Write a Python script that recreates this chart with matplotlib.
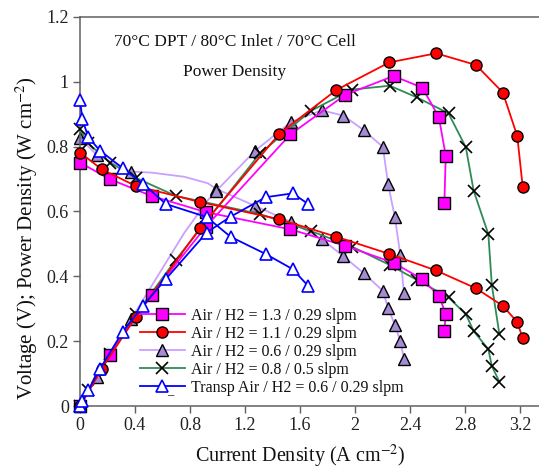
import matplotlib
matplotlib.use("Agg")
import matplotlib.pyplot as plt

plt.rcParams['font.family'] = ['Liberation Serif', 'DejaVu Serif']
plt.rcParams['mathtext.fontset'] = 'stix'

# --- Air / H2 = 1.3 / 0.29 slpm (magenta squares) ---
i_mag = [0.0, 0.215, 0.52, 0.915, 1.53, 1.93, 2.28, 2.49, 2.61, 2.66, 2.65]
v_mag = [0.751, 0.70, 0.648, 0.598, 0.545, 0.494, 0.442, 0.391, 0.34, 0.284, 0.232]
p_mag = [0.0, 0.157, 0.343, 0.553, 0.838, 0.96, 1.018, 0.982, 0.891, 0.772, 0.627]

# --- Air / H2 = 1.1 / 0.29 slpm (red circles) ---
i_red = [0.0, 0.158, 0.405, 0.875, 1.45, 1.865, 2.25, 2.59, 2.88, 3.075, 3.18, 3.22]
v_red = [0.782, 0.73, 0.679, 0.629, 0.576, 0.522, 0.469, 0.418, 0.363, 0.309, 0.259, 0.209]
p_red = [0.0, 0.115, 0.275, 0.55, 0.84, 0.975, 1.06, 1.088, 1.052, 0.967, 0.833, 0.675]

# --- Air / H2 = 0.6 / 0.29 slpm (lavender triangles); 3 line-only points ---
i_lav = [0.0, 0.121, 0.371, 0.52, 0.76, 0.93, 0.99, 1.275, 1.538, 1.758, 1.915,
         2.063, 2.203, 2.24, 2.29, 2.33, 2.356]
v_lav = [0.826, 0.775, 0.723, 0.72, 0.707, 0.687, 0.67, 0.617, 0.567, 0.515, 0.462,
         0.41, 0.355, 0.303, 0.25, 0.199, 0.146]
p_lav = [0.0, 0.09, 0.267, 0.37, 0.535, 0.635, 0.663, 0.788, 0.877, 0.912, 0.896,
         0.851, 0.799, 0.686, 0.582, 0.466, 0.348]
lav_marks = [0, 1, 2, 6, 7, 8, 9, 10, 11, 12, 13, 14, 15, 16]

# --- Air / H2 = 0.8 / 0.5 slpm (green line, black x) ---
i_grn = [0.0, 0.06, 0.218, 0.41, 0.697, 1.309, 1.677, 1.976, 2.253, 2.45, 2.68,
         2.806, 2.863, 2.97, 2.995, 3.05]
v_grn = [0.853, 0.81, 0.751, 0.703, 0.648, 0.592, 0.54, 0.492, 0.435, 0.389, 0.335,
         0.283, 0.231, 0.175, 0.123, 0.075]
p_grn = [0.0, 0.048, 0.16, 0.285, 0.451, 0.779, 0.91, 0.976, 0.988, 0.952, 0.903,
         0.798, 0.664, 0.53, 0.373, 0.222]

# --- Transp Air / H2 = 0.6 / 0.29 slpm (blue open triangles) ---
i_blu = [0.0, 0.017, 0.06, 0.145, 0.31, 0.46, 0.625, 0.921, 1.095, 1.35, 1.547, 1.66]
v_blu = [0.944, 0.885, 0.829, 0.788, 0.734, 0.685, 0.623, 0.583, 0.522, 0.469, 0.422, 0.37]
p_blu = [0.0, 0.015, 0.049, 0.114, 0.229, 0.31, 0.392, 0.535, 0.584, 0.644, 0.656, 0.623]

xticks = [0, 0.4, 0.8, 1.2, 1.6, 2.0, 2.4, 2.8, 3.2]
xticklabels = ["0", "0.4", "0.8", "1.2", "1.6", "2", "2.4", "2.8", "3.2"]
yticks = [0, 0.2, 0.4, 0.6, 0.8, 1.0, 1.2]
yticklabels = ["0", "0.2", "0.4", "0.6", "0.8", "1", "1.2"]

fig = plt.figure(figsize=(5.39, 4.69), dpi=100)
ax = fig.add_axes([80 / 539, 63 / 469, 459 / 539, 389 / 469])

styles = {
    "mag": dict(color="#ff00ff", marker="s", ms=8, mfc="#ff00ff", mec="black", mew=1.0, lw=1.3, zorder=4),
    "red": dict(color="#ff0000", marker="o", ms=8, mfc="#ff0000", mec="black", mew=1.0, lw=1.3, zorder=5),
    "lav": dict(color="#c9a0ff", marker="^", ms=8, mfc="#a58bd4", mec="black", mew=1.0, lw=1.3, zorder=2),
    "grn": dict(color="#2e8b57", marker="x", ms=8, mfc="none", mec="black", mew=1.2, lw=1.3, zorder=3),
    "blu": dict(color="#0000ff", marker="^", ms=8, mfc="white", mec="#0000ff", mew=1.2, lw=1.3, zorder=6),
}

h_mag, = ax.plot(i_mag, v_mag, clip_on=False, **styles["mag"])
ax.plot(i_mag, p_mag, clip_on=False, **styles["mag"])
h_red, = ax.plot(i_red, v_red, clip_on=False, **styles["red"])
ax.plot(i_red, p_red, clip_on=False, **styles["red"])
h_lav, = ax.plot(i_lav, v_lav, markevery=lav_marks, clip_on=False, **styles["lav"])
ax.plot(i_lav, p_lav, markevery=lav_marks, clip_on=False, **styles["lav"])
h_grn, = ax.plot(i_grn, v_grn, clip_on=False, **styles["grn"])
ax.plot(i_grn, p_grn, clip_on=False, **styles["grn"])
h_blu, = ax.plot(i_blu, v_blu, clip_on=False, **styles["blu"])
ax.plot(i_blu, p_blu, clip_on=False, **styles["blu"])

ax.set_xlim(0, 459 / 137.5)
ax.set_ylim(0, 1.2)
ax.set_xticks(xticks)
ax.set_xticklabels(xticklabels)
ax.set_yticks(yticks)
ax.set_yticklabels(yticklabels)

for side in ["left", "bottom", "top"]:
    ax.spines[side].set_color("#606060")
    ax.spines[side].set_linewidth(1.1)
ax.spines["right"].set_visible(False)
ax.tick_params(direction="out", length=5, width=1.0, color="#606060",
               labelsize=13, labelcolor="#222222", pad=3)

ax.set_xlabel("Current Density (A cm$^{-2}$)", fontsize=14.5, color="#111111")
ax.xaxis.set_label_coords((300 - 80) / 459, -0.094)
ax.set_ylabel("Voltage (V); Power Density (W cm$^{-2}$)", fontsize=15, color="#111111")
ax.yaxis.set_label_coords((40 - 80) / 459, (406 - 238) / 389)

ax.text(1.127, 1.122, "70\u00b0C DPT / 80\u00b0C Inlet / 70\u00b0C Cell", fontsize=12.5,
        ha="center", va="center", color="#111111")
ax.text(1.127, 1.03, "Power Density", fontsize=12.5, ha="center", va="center", color="#111111")

leg = ax.legend([h_mag, h_red, h_lav, h_grn, h_blu],
                ["Air / H2 = 1.3 / 0.29 slpm", "Air / H2 = 1.1 / 0.29 slpm",
                 "Air / H2 = 0.6 / 0.29 slpm", "Air / H2 = 0.8 / 0.5 slpm",
                 "Transp Air / H2 = 0.6 / 0.29 slpm"],
                loc="upper left", bbox_to_anchor=((140 - 80) / 459, (406 - 308) / 389),
                frameon=False, fontsize=11.5, handlelength=2.8, handletextpad=0.4,
                labelspacing=0.12, borderaxespad=0, borderpad=0)
for t in leg.get_texts():
    t.set_color("#111111")

ax.text(0.655, 0.032, "\u2013", fontsize=9, ha="center", va="center", color="black")

fig.savefig("out.png", dpi=100)
